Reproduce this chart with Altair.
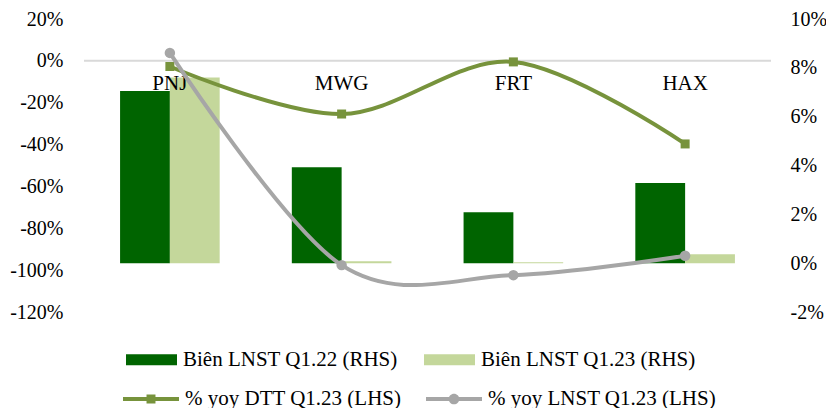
import altair as alt
import pandas as pd

categories = ["PNJ", "MWG", "FRT", "HAX"]
bar_series = ["Biên LNST Q1.22 (RHS)", "Biên LNST Q1.23 (RHS)"]
margin_q122 = [0.0705, 0.0393, 0.0209, 0.0328]
margin_q123 = [0.0760, 0.0008, 0.0004, 0.0037]
line_series = ["% yoy DTT Q1.23 (LHS)", "% yoy LNST Q1.23 (LHS)"]
yoy_dtt = [-0.027, -0.254, -0.005, -0.397]
yoy_lnst = [0.038, -0.976, -1.024, -0.931]
left_ticks = [0.2, 0.0, -0.2, -0.4, -0.6, -0.8, -1.0, -1.2]
right_ticks = [0.10, 0.08, 0.06, 0.04, 0.02, 0.0, -0.02]

DARK = "#006400"
LIGHT = "#c4d79b"
OLIVE = "#77933c"
GREY = "#a6a6a6"
FONT = "Liberation Serif"

bar_df = pd.DataFrame({
    "cat": categories * 2,
    "series": [bar_series[0]] * 4 + [bar_series[1]] * 4,
    "value": margin_q122 + margin_q123,
})
dtt_df = pd.DataFrame({"cat": categories, "value": yoy_dtt, "series": line_series[0]})
lnst_df = pd.DataFrame({"cat": categories, "value": yoy_lnst, "series": line_series[1]})
line_df = pd.concat([dtt_df, lnst_df])
cat_df = pd.DataFrame({"cat": categories})
zero_df = pd.DataFrame({"v": [0]})

x_enc = alt.X("cat:N", sort=categories,
              scale=alt.Scale(domain=categories, paddingInner=0.42, paddingOuter=0.21),
              axis=None)

pct_expr = "round(datum.value * 100) + '%'"
axis_common = dict(labelExpr=pct_expr, grid=False, domain=False, ticks=False, tickSize=0,
                   labelFont=FONT, labelFontSize=20, labelColor="#000000", title=None)

right_axis = alt.Axis(orient="right", values=right_ticks, labelPadding=19, **axis_common)
left_axis = alt.Axis(orient="left", values=left_ticks, labelPadding=21, **axis_common)

rect_path = "M-1,-0.22H1V0.22H-1Z"
sq_path = "M-1,-0.075H1V0.075H-1Z M-0.16,-0.16H0.16V0.16H-0.16Z"
circ_path = "M-1,-0.075H1V0.075H-1Z M0.19,0A0.19,0.19,0,1,1,-0.19,0A0.19,0.19,0,1,1,0.19,0Z"

bar_legend = alt.Legend(orient="none", legendX=42, legendY=315, direction="horizontal",
                        columns=2, columnPadding=26, title=None, symbolType=rect_path,
                        symbolSize=2601, symbolStrokeWidth=0, labelOffset=6,
                        labelFont=FONT, labelFontSize=21, labelColor="#000000",
                        labelLimit=400, padding=0)
line_legend = alt.Legend(orient="none", legendX=39, legendY=352, direction="horizontal",
                         columns=2, columnPadding=24, title=None,
                         symbolSize=3136, symbolStrokeWidth=0, labelOffset=6,
                         labelFont=FONT, labelFontSize=21, labelColor="#000000",
                         labelLimit=400, padding=0)

bars = alt.Chart(bar_df).mark_bar().encode(
    x=x_enc,
    xOffset=alt.XOffset("series:N", scale=alt.Scale(domain=bar_series, paddingInner=0)),
    y=alt.Y("value:Q", scale=alt.Scale(domain=[-0.02, 0.10], nice=False), axis=right_axis),
    color=alt.Color("series:N", scale=alt.Scale(domain=bar_series, range=[DARK, LIGHT]),
                    legend=bar_legend),
)

y_left = alt.Y("value:Q", scale=alt.Scale(domain=[-1.2, 0.2], nice=False), axis=left_axis)

zero_rule = alt.Chart(zero_df).mark_rule(color="#d9d9d9", strokeWidth=2).encode(
    y=alt.Y("v:Q", scale=alt.Scale(domain=[-1.2, 0.2], nice=False), axis=left_axis)
)

dtt_line = alt.Chart(dtt_df).mark_line(color=OLIVE, strokeWidth=4, interpolate="cardinal").encode(
    x=x_enc, y=y_left)
dtt_pts = alt.Chart(dtt_df).mark_point(shape="square", filled=True, color=OLIVE, size=81,
                                       opacity=1).encode(x=x_enc, y=y_left)
lnst_line = alt.Chart(lnst_df).mark_line(color=GREY, strokeWidth=4, interpolate="cardinal").encode(
    x=x_enc, y=y_left)
lnst_pts = alt.Chart(lnst_df).mark_point(shape="circle", filled=True, color=GREY, size=110,
                                         opacity=1).encode(x=x_enc, y=y_left)

cat_text = alt.Chart(cat_df).mark_text(font=FONT, fontSize=21, color="#000000", dy=23,
                                       baseline="middle").encode(
    x=x_enc, y=alt.Y(datum=0), text="cat:N")

legend_dummy = alt.Chart(line_df).transform_filter("false").mark_point(
    filled=True, strokeWidth=0, opacity=1).encode(
    shape=alt.Shape("series:N", scale=alt.Scale(domain=line_series, range=[sq_path, circ_path]),
                    legend=line_legend),
    color=alt.Color("series:N", scale=alt.Scale(domain=line_series, range=[OLIVE, GREY]),
                    legend=line_legend),
)

left_layer = alt.layer(zero_rule, cat_text, dtt_line, dtt_pts, lnst_line, lnst_pts, legend_dummy)

chart = alt.layer(bars, left_layer).resolve_scale(
    y="independent", color="independent", shape="independent"
).properties(
    width=687, height=293,
    autosize=alt.AutoSizeParams(type="none"),
    padding={"left": 84, "top": 19, "right": 55, "bottom": 96},
    background="#ffffff",
).configure_view(stroke=None)

chart.save("out.html", embed_options={"renderer": "svg", "actions": False})
